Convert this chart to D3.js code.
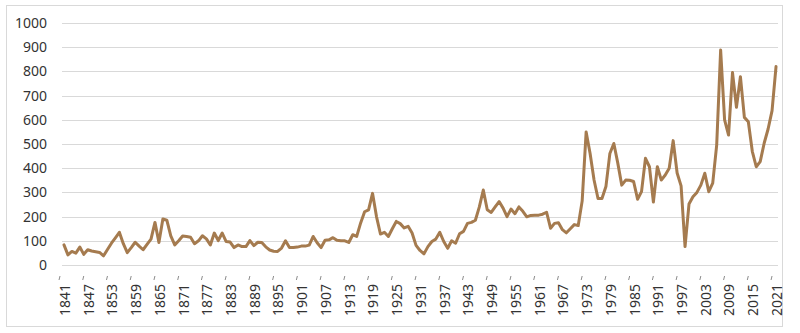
<!DOCTYPE html>
<html>
<head>
<meta charset="utf-8">
<script src="https://cdn.jsdelivr.net/npm/d3@7"></script>
<style>
  html, body { margin: 0; padding: 0; background: #fff; }
  svg { display: block; }
  text { font-family: "Noto Sans", "Open Sans", sans-serif; }
</style>
</head>
<body>
<svg id="chart" width="800" height="333"></svg>
<script>
// ---- data ----
const firstYear = 1841;
const lastYear = 2021;
const years = d3.range(firstYear, lastYear + 1);
const values = [
  83, 42, 56, 49, 74, 44, 63, 58, 55, 52,          // 1841-1850
  38, 64, 90, 112, 135, 88, 51, 72, 94, 78,        // 1851-1860
  63, 85, 107, 176, 93, 190, 185, 120, 83, 100,    // 1861-1870
  120, 118, 115, 88, 100, 121, 108, 83, 132, 101,  // 1871-1880
  132, 97, 95, 72, 83, 76, 76, 101, 80, 94,        // 1881-1890
  93, 75, 62, 57, 56, 70, 100, 72, 72, 74,         // 1891-1900
  78, 78, 82, 118, 92, 72, 102, 104, 113, 102,     // 1901-1910
  100, 100, 93, 125, 118, 174, 220, 228, 296, 200, // 1911-1920
  128, 135, 118, 150, 180, 171, 153, 160, 132, 81, // 1921-1930
  60, 46, 76, 97, 107, 135, 97, 69, 100, 90,       // 1931-1940
  129, 139, 172, 176, 185, 240, 310, 228, 217, 240,// 1941-1950
  262, 235, 200, 231, 212, 240, 222, 199, 205, 206,// 1951-1960
  206, 210, 218, 152, 172, 175, 146, 133, 150, 167,// 1961-1970
  163, 265, 550, 461, 351, 275, 275, 324, 461, 502,// 1971-1980
  421, 330, 351, 350, 345, 272, 303, 441, 406, 260,// 1981-1990
  406, 351, 372, 400, 514, 380, 327, 76, 252, 282, // 1991-2000
  300, 330, 379, 303, 338, 495, 888, 600, 537, 795,// 2001-2010
  652, 778, 610, 592, 470, 406, 427, 503, 562, 638,// 2011-2020
  820                                              // 2021
];
const yTicks = [0, 100, 200, 300, 400, 500, 600, 700, 800, 900, 1000];
const xTickLabels = years.filter(yr => (yr - firstYear) % 6 === 0);

if (values.length !== years.length) throw new Error("length mismatch " + values.length);

const series = years.map((yr, i) => ({ year: yr, value: values[i] }));

// ---- layout ----
const svg = d3.select("#chart");
const plotLeft = 62, plotRight = 778, plotTop = 23, plotBottom = 265;

svg.append("rect")
  .attr("x", 6.5).attr("y", 5.5).attr("width", 776).attr("height", 321)
  .attr("fill", "#fff").attr("stroke", "#d9d9d9").attr("stroke-width", 1);

const x = d3.scaleBand().domain(years).range([plotLeft, plotRight]).paddingInner(0).paddingOuter(0);
const cx = yr => x(yr) + x.bandwidth() / 2;
const y = d3.scaleLinear().domain([0, 1000]).range([plotBottom, plotTop]);

// gridlines
svg.append("g").selectAll("line").data(yTicks).join("line")
  .attr("x1", plotLeft).attr("x2", plotRight)
  .attr("y1", d => Math.round(y(d)) + 0.5).attr("y2", d => Math.round(y(d)) + 0.5)
  .attr("stroke", "#d9d9d9").attr("stroke-width", 1);

// y axis labels
const yAxis = d3.axisLeft(y).tickValues(yTicks).tickFormat(d3.format("d")).tickSize(0).tickPadding(0);
const gy = svg.append("g").attr("transform", `translate(${plotLeft - 15},0)`).call(yAxis);
gy.select(".domain").remove();
gy.selectAll("text")
  .attr("font-size", 14).attr("fill", "#333")
  .style("font-family", '"Noto Sans", sans-serif');

// x axis labels (rotated)
const xAxis = d3.axisBottom(x).tickValues(xTickLabels).tickFormat(d3.format("d")).tickSize(0).tickPadding(0);
const gx = svg.append("g").attr("transform", `translate(0,${plotBottom})`).call(xAxis);
gx.select(".domain").remove();
gx.selectAll(".tick text")
  .attr("font-size", 14).attr("fill", "#333")
  .style("font-family", '"Noto Sans", sans-serif')
  .attr("text-anchor", "end")
  .attr("transform", "translate(1,19) rotate(-90)")
  .attr("x", 0).attr("y", 0).attr("dy", "0.35em");

// small tick marks
svg.append("g").selectAll("path").data(xTickLabels).join("path")
  .attr("d", d => {
    const b = x(d) - 3;
    return `M${b + 1},${plotBottom + 11} L${b},${plotBottom + 15}`;
  })
  .attr("stroke", "#8c8c8c").attr("stroke-width", 1).attr("fill", "none");

// line
const line = d3.line().x(d => cx(d.year)).y(d => y(d.value));
svg.append("path").datum(series)
  .attr("d", line)
  .attr("fill", "none")
  .attr("stroke", "#a57b4f")
  .attr("stroke-width", 3)
  .attr("stroke-linejoin", "round")
  .attr("stroke-linecap", "round");
</script>
</body>
</html>
